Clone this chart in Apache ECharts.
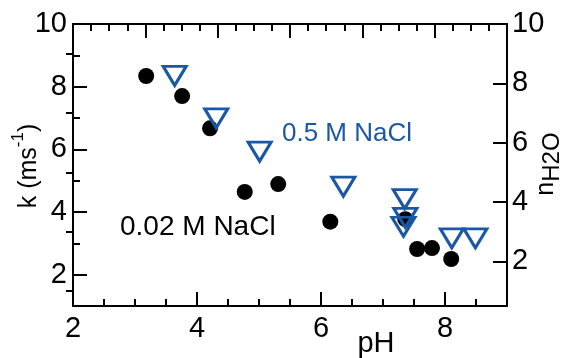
<!DOCTYPE html>
<html>
<head>
<meta charset="utf-8">
<script src="https://cdn.jsdelivr.net/npm/echarts@6/dist/echarts.min.js"></script>
<style>
  html, body { margin: 0; padding: 0; background: #fff; }
  #chart { width: 563px; height: 358px; }
</style>
</head>
<body>
<div id="chart"></div>
<script>
// Rate constant k (0.02 M NaCl) versus pH
const phLow = [3.18, 3.76, 4.21, 4.77, 5.31, 6.15, 7.36, 7.55, 7.79, 8.10];
const kLow  = [8.34, 7.70, 6.67, 4.64, 4.89, 3.69, 3.77, 2.82, 2.85, 2.50];

// Hydration number n(H2O) (0.5 M NaCl) versus pH
const phHigh = [3.64, 4.31, 5.01, 6.36, 7.35, 7.36, 7.33, 8.11, 8.49];
const nHigh  = [8.25, 6.82, 5.70, 4.52, 4.10, 3.47, 3.17, 2.78, 2.78];

// Axis ticks and labels
const xMajor = [2, 4, 6, 8];
const xMinor = [2.5, 3, 3.5, 4.5, 5, 5.5, 6.5, 7, 7.5, 8.5];
const topMajor = [1, 2, 3, 4, 5];
const topMinor = [0.25, 0.5, 0.75, 1.25, 1.5, 1.75, 2.25, 2.5, 2.75, 3.25, 3.5, 3.75, 4.25, 4.5, 4.75, 5.25, 5.5, 5.75];
const kMajor = [2, 4, 6, 8, 10];
const kMinor = [3, 5, 7, 9];
const nMajor = [2, 4, 6, 8, 10];
const nMinor = [1, 3, 5, 7, 9];

const FONT = "'Liberation Sans', Arial, sans-serif";
const BLUE = '#1a58a6';
const INK = '#000';

function axisBase(extra) {
  return Object.assign({
    type: 'value',
    splitLine: { show: false },
    axisLine: { show: true, onZero: false, lineStyle: { color: INK, width: 2 } },
    axisTick: { show: false },
    axisLabel: { show: false }
  }, extra);
}
function ticks(vals, len) {
  return { show: true, inside: true, length: len, customValues: vals, lineStyle: { color: INK, width: 2 } };
}
function labels(vals, margin) {
  return { show: true, customValues: vals, margin: margin, color: INK, fontSize: 29, fontFamily: FONT };
}

const chart = echarts.init(document.getElementById('chart'));
chart.setOption({
  animation: false,
  backgroundColor: '#fff',
  grid: { left: 73, top: 24, right: 56, bottom: 52, containLabel: false },
  xAxis: [
    axisBase({ position: 'bottom', min: 2, max: 9, axisTick: ticks(xMajor, 14), axisLabel: labels(xMajor, 8) }),
    axisBase({ position: 'bottom', min: 2, max: 9, axisLine: { show: false }, axisTick: ticks(xMinor, 7) }),
    axisBase({ position: 'top', min: 0, max: 6, axisTick: ticks(topMajor, 14) }),
    axisBase({ position: 'top', min: 0, max: 6, axisLine: { show: false }, axisTick: ticks(topMinor, 7) })
  ],
  yAxis: [
    axisBase({ position: 'left', min: 1, max: 10, axisTick: ticks(kMajor, 14), axisLabel: labels(kMajor, 6) }),
    axisBase({ position: 'left', min: 1, max: 10, axisLine: { show: false }, axisTick: ticks(kMinor, 7) }),
    axisBase({ position: 'right', min: 0.5, max: 10, axisTick: ticks(nMajor, 14), axisLabel: labels(nMajor, 5) }),
    axisBase({ position: 'right', min: 0.5, max: 10, axisLine: { show: false }, axisTick: ticks(nMinor, 7) })
  ],
  series: [
    {
      name: '0.02 M NaCl',
      type: 'scatter',
      xAxisIndex: 0,
      yAxisIndex: 0,
      symbol: 'circle',
      symbolSize: 16,
      itemStyle: { color: INK, opacity: 1 },
      data: phLow.map((p, i) => [p, kLow[i]]),
      z: 2
    },
    {
      name: '0.5 M NaCl',
      type: 'scatter',
      xAxisIndex: 0,
      yAxisIndex: 2,
      symbol: 'triangle',
      symbolRotate: 180,
      symbolSize: [23, 19],
      itemStyle: { color: 'transparent', borderColor: BLUE, borderWidth: 3, opacity: 1 },
      data: phHigh.map((p, i) => [p, nHigh[i]]),
      z: 3
    }
  ],
  graphic: [
    {
      type: 'text', left: 282, top: 121,
      style: { text: '0.5 M NaCl', fill: BLUE, fontSize: 26, fontFamily: FONT }
    },
    {
      type: 'text', left: 120, top: 213,
      style: { text: '0.02 M NaCl', fill: INK, fontSize: 28, fontFamily: FONT }
    },
    {
      type: 'text', x: 376, y: 358,
      style: { text: 'pH', fill: INK, fontSize: 29, fontFamily: FONT, align: 'center', verticalAlign: 'bottom' }
    },
    {
      type: 'text', x: 26, y: 166, rotation: Math.PI / 2,
      style: {
        text: '{a|k (ms}{b|-1}{a|)}',
        align: 'center', verticalAlign: 'middle',
        rich: {
          a: { fontSize: 25, fontFamily: FONT, fill: INK, lineHeight: 32, verticalAlign: 'bottom' },
          b: { fontSize: 17, fontFamily: FONT, fill: INK, lineHeight: 32, verticalAlign: 'top' }
        }
      }
    },
    {
      type: 'text', x: 549, y: 164, rotation: Math.PI / 2,
      style: {
        text: '{a|n}{b|H2O}',
        align: 'center', verticalAlign: 'middle',
        rich: {
          a: { fontSize: 25, fontFamily: FONT, fill: INK, lineHeight: 30, verticalAlign: 'top' },
          b: { fontSize: 24, fontFamily: FONT, fill: INK, lineHeight: 30, verticalAlign: 'bottom' }
        }
      }
    }
  ]
});
</script>
</body>
</html>
